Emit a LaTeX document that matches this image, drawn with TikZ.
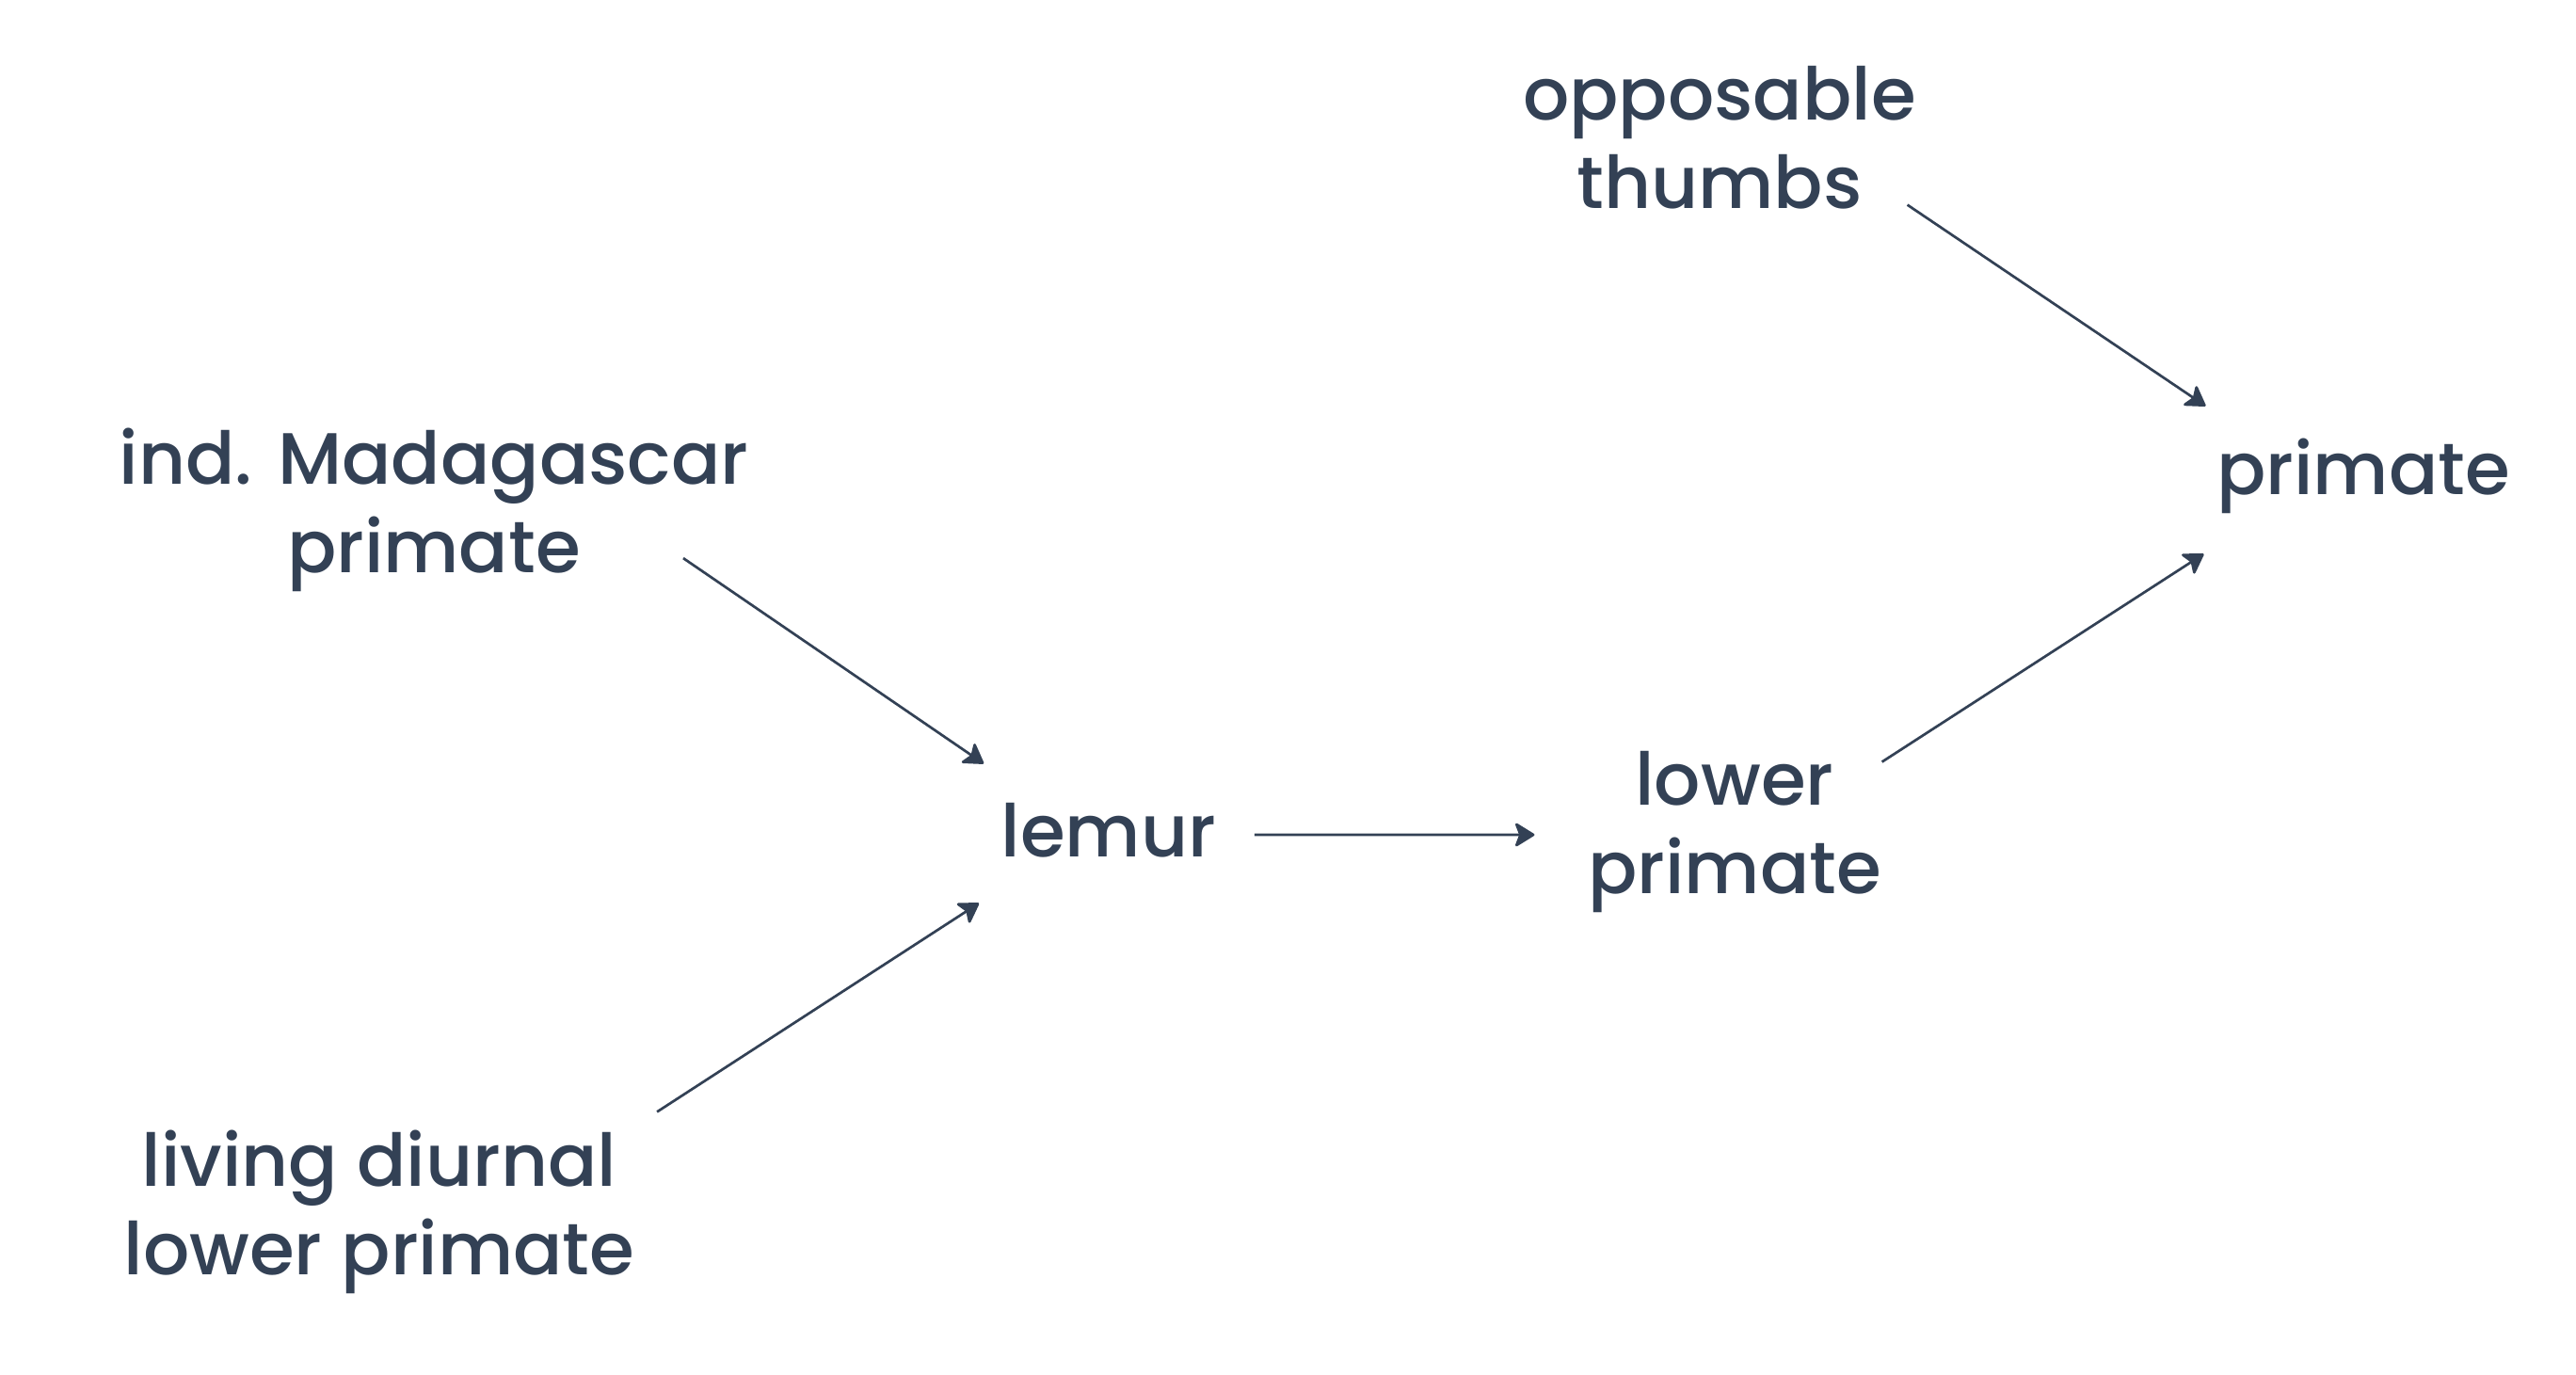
\documentclass[tikz,border=0pt]{standalone}
\usepackage{fontspec}
\setmainfont{Poppins}[UprightFont=* Medium]
\usetikzlibrary{arrows.meta}
\definecolor{slate}{RGB}{51,65,85}

\begin{document}
\begin{tikzpicture}[
    term/.style={align=center, inner sep=0pt, text=slate, font=\fontsize{22}{26.75}\selectfont},
    link/.style={draw=slate, line width=0.77pt, -{Stealth[length=6.5pt, width=8pt, inset=1.5pt, round]}}
]
    \useasboundingbox (0,0) rectangle (27.37,-14.61);

    % --- Terms ---
    \node[term] (thumbs) at (18.27,-1.46) {opposable\\thumbs};
    \node[term] (primate) at (25.11,-5.06) {primate};
    \node[term] (madagascar) at (4.61,-5.415) {ind. Madagascar\\primate};
    \node[term] (lemur) at (11.78,-8.82) {lemur};
    \node[term] (lower) at (18.43,-8.84) {lower\\primate};
    \node[term] (diurnal) at (4.03,-12.88) {living diurnal\\lower primate};

    % --- Arrows ---
    % into lemur
    \draw[link] ([shift={(-0.70,0.36)}]madagascar.south east) -- ([shift={(-0.18,0.41)}]lemur.north west);
    \draw[link] ([shift={(0.23,0.19)}]diurnal.north east) -- ([shift={(-0.23,-0.48)}]lemur.south west);
    % lemur to lower primate
    \draw[link] ([shift={(0.40,-0.05)}]lemur.east) -- ([shift={(-0.56,-0.03)}]lower.west);
    % into primate
    \draw[link] ([shift={(-0.10,0.05)}]thumbs.south east) -- ([shift={(-0.11,0.34)}]primate.north west);
    \draw[link] ([shift={(0,-0.12)}]lower.north east) -- ([shift={(-0.13,-0.42)}]primate.south west);
\end{tikzpicture}
\end{document}
